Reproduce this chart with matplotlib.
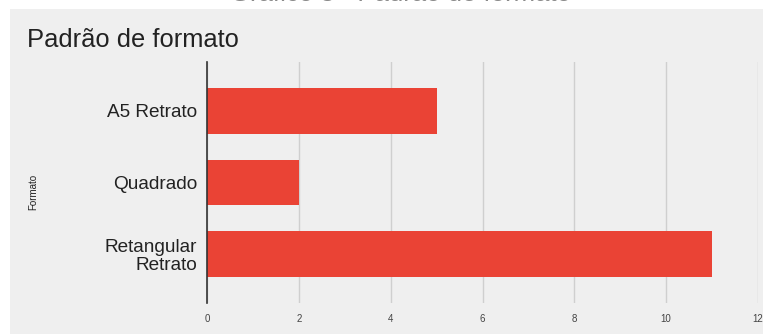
import matplotlib
matplotlib.use("Agg")
import matplotlib.pyplot as plt
from matplotlib.patches import Rectangle

plt.rcParams['font.family'] = ['Liberation Sans', 'DejaVu Sans']

formatos = ["A5 Retrato", "Quadrado", "Retangular\nRetrato"]
quantidade = [5, 2, 11]
x_ticks = [0, 2, 4, 6, 8, 10, 12]

W, H = 763, 334
fig = plt.figure(figsize=(W / 100, H / 100), dpi=100)
fig.patch.set_facecolor("white")

# painel cinza do grafico
fig.patches.append(Rectangle((10 / W, 0), 1 - 10 / W, 1 - 9 / H,
                             transform=fig.transFigure, facecolor="#efefef",
                             edgecolor="none", zorder=-5))

# legenda do documento, cortada no topo
fig.text(400 / W, 1 - 1 / H, "Gráfico 3 - Padrão de formato", ha="center",
         va="baseline", fontsize=18.5, color="#8a8a8a")

ax = fig.add_axes([207 / W, 1 - 303 / H, 551 / W, 241 / H])
ax.set_facecolor("#efefef")

pos = list(range(len(formatos)))
ax.barh(pos, quantidade, height=0.64, color="#ea4335", zorder=3)
ax.set_ylim(2.68, -0.68)
ax.set_xlim(0, 12)
ax.set_xticks(x_ticks)
ax.set_xticklabels([str(t) for t in x_ticks], fontsize=7, color="#444444")
ax.set_yticks(pos)
ax.set_yticklabels(formatos, fontsize=13.7, color="#222222", linespacing=1.05)
ax.tick_params(axis="y", length=0, pad=7)
ax.tick_params(axis="x", length=0, pad=8)

ax.grid(axis="x", color="#cfcfcf", linewidth=1, zorder=1)
for s in ["top", "right", "bottom"]:
    ax.spines[s].set_visible(False)
ax.spines["left"].set_color("#333333")
ax.spines["left"].set_linewidth(1.2)
ax.spines["left"].set_zorder(4)

fig.text(33 / W, 1 - 192 / H, "Formato", rotation=90, ha="center",
         va="center", fontsize=7, color="#222222")
fig.text(27 / W, 1 - 47 / H, "Padrão de formato", ha="left", va="baseline",
         fontsize=18.4, color="#222222")

fig.savefig("out.png", dpi=100, facecolor=fig.get_facecolor())
